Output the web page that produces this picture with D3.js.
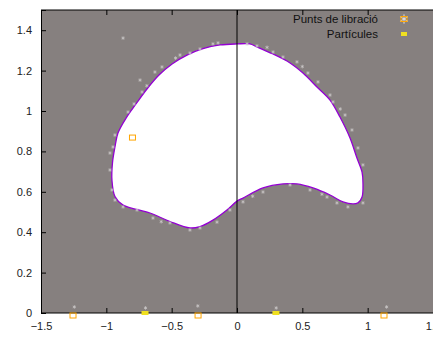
<!DOCTYPE html>
<html>
<head>
<meta charset="utf-8">
<script src="https://cdn.jsdelivr.net/npm/d3@7"></script>
<style>
  html, body { margin: 0; padding: 0; background: #ffffff; overflow: hidden; }
  svg { display: block; }
  text { font-family: "Liberation Sans", Arial, sans-serif; }
</style>
</head>
<body>
<svg id="chart" width="433" height="338"></svg>
<script>
// Zero-velocity curve (boundary of the allowed region), traced clockwise
const boundaryX = [0, 0.099, 0.153, 0.276, 0.406, 0.505, 0.612, 0.712, 0.788, 0.865, 0.918, 0.957, 0.964, 0.957, 0.926, 0.888, 0.811, 0.712, 0.582, 0.459, 0.352, 0.199, 0.046, 0, -0.077, -0.184, -0.283, -0.360, -0.513, -0.666, -0.872, -0.934, -0.957, -0.953, -0.934, -0.911, -0.849, -0.773, -0.689, -0.597, -0.497, -0.383, -0.260, -0.130];
const boundaryY = [1.332, 1.332, 1.317, 1.282, 1.238, 1.188, 1.119, 1.054, 0.970, 0.866, 0.767, 0.698, 0.644, 0.574, 0.545, 0.540, 0.550, 0.584, 0.619, 0.639, 0.639, 0.619, 0.569, 0.554, 0.510, 0.460, 0.428, 0.421, 0.453, 0.495, 0.535, 0.577, 0.658, 0.743, 0.822, 0.891, 0.965, 1.035, 1.109, 1.178, 1.233, 1.277, 1.309, 1.327];

// Libration points
const librationX = [-1.255, -0.298, 1.125, -0.80];
const librationY = [0, 0, 0, 0.866];

// Particles on the axis (yellow markers)
const particleX = [-0.704, 0.298];
const particleY = [0, 0];

// Particle trail samples near the boundary
const trailX = [-0.872, -0.742, -0.727, -0.628, -0.574, -0.436, -0.360, -0.283, -0.184, -0.145, 0.077, 0.153, 0.276, 0.352, 0.459, 0.543, 0.620, 0.712, 0.735, 0.827, 0.880, 0.926, 0.964, -0.957, -0.934, -0.872, -0.765, -0.643, -0.513, -0.360, -0.283, -0.153, -0.054, 0.046, 0.199, 0.406, 0.559, 0.689, 0.765, 0.849, 0.964, -0.934, -0.972, -0.949, -0.972, -0.834, -0.788, -1.245, -0.700, -0.300, 0.300, 1.145, -0.690, -0.470, 0.230, 0.500, 0.790, -0.580, 0.120, 0.650];
const trailY = [1.361, 1.153, 1.094, 1.193, 1.218, 1.277, 1.287, 1.307, 1.332, 1.337, 1.332, 1.322, 1.292, 1.267, 1.243, 1.188, 1.144, 1.079, 1.045, 0.980, 0.906, 0.817, 0.733, 0.609, 0.559, 0.525, 0.510, 0.470, 0.446, 0.411, 0.421, 0.450, 0.510, 0.550, 0.599, 0.634, 0.609, 0.574, 0.545, 0.525, 0.545, 0.881, 0.792, 0.822, 0.708, 0.995, 1.035, 0.030, 0.025, 0.035, 0.025, 0.030, 1.125, 1.262, 1.315, 1.220, 1.010, 0.452, 0.578, 0.588];

const xTicks = [-1.5, -1, -0.5, 0, 0.5, 1, 1.5];
const yTicks = [0, 0.2, 0.4, 0.6, 0.8, 1, 1.2, 1.4];
const legendLabels = ["Punts de libració", "Partícules"];

const svg = d3.select("#chart");
const plotLeft = 41, plotRight = 433, plotTop = 10, plotBottom = 313;

const x = d3.scaleLinear().domain([-1.5, 1.5]).range([plotLeft, plotRight]);
const y = d3.scaleLinear().domain([0, 1.5]).range([plotBottom, plotTop]);

// Plot background
svg.append("rect")
  .attr("x", plotLeft).attr("y", plotTop)
  .attr("width", plotRight - plotLeft).attr("height", plotBottom - plotTop)
  .attr("fill", "#86807f");

// Allowed region
const boundary = boundaryX.map((d, i) => [d, boundaryY[i]]);
svg.append("path")
  .datum(boundary)
  .attr("d", d3.line().x(d => x(d[0])).y(d => y(d[1])).curve(d3.curveCatmullRomClosed.alpha(0.5)))
  .attr("fill", "#ffffff")
  .attr("stroke", "#9400d3")
  .attr("stroke-width", 1.3);

// Vertical line at x = 0
svg.append("line")
  .attr("x1", x(0)).attr("x2", x(0))
  .attr("y1", y(1.5)).attr("y2", y(0))
  .attr("stroke", "#000").attr("stroke-width", 1);

// Trail samples
const star = d3.symbol().type(d3.symbolAsterisk).size(9);
svg.append("g").selectAll("path")
  .data(trailX.map((d, i) => [d, trailY[i]]))
  .join("path")
  .attr("d", star)
  .attr("transform", d => `translate(${x(d[0])},${y(d[1])})`)
  .attr("fill", "none")
  .attr("stroke", "#cfcbcb")
  .attr("stroke-width", 0.7);

// Axes: inward gnuplot-style ticks
const xAxis = d3.axisBottom(x).tickValues(xTicks).tickSize(-5).tickPadding(9).tickFormat(d3.format("~g"));
const yAxis = d3.axisLeft(y).tickValues(yTicks).tickSize(-5).tickPadding(9).tickFormat(d3.format("~g"));
const xTop = d3.axisTop(x).tickValues(xTicks).tickSize(-5).tickFormat("");

const gx = svg.append("g").attr("transform", `translate(0,${plotBottom})`).call(xAxis);
const gy = svg.append("g").attr("transform", `translate(${plotLeft},0)`).call(yAxis);
const gt = svg.append("g").attr("transform", `translate(0,${plotTop})`).call(xTop);
[gx, gy, gt].forEach(g => {
  g.select(".domain").attr("stroke", "#000").attr("stroke-width", 1);
  g.selectAll(".tick line").attr("stroke", "#000");
  g.selectAll(".tick text").attr("font-size", 11).attr("fill", "#222")
    .attr("font-family", "Liberation Sans, Arial, sans-serif");
});
gx.select(".domain").attr("d", `M${plotLeft},0H${plotRight}`);
gt.select(".domain").attr("d", `M${plotLeft},0H${plotRight}`);

// Libration points: open orange squares
svg.append("g").selectAll("rect")
  .data(librationX.map((d, i) => [d, librationY[i]]))
  .join("rect")
  .attr("x", d => x(d[0]) - 3)
  .attr("y", d => y(d[1]) - (d[1] === 0 ? 0 : 3))
  .attr("width", 6).attr("height", 5)
  .attr("fill", "none")
  .attr("stroke", "#ffa500")
  .attr("stroke-width", 1);

// Particles: filled yellow squares
svg.append("g").selectAll("rect")
  .data(particleX.map((d, i) => [d, particleY[i]]))
  .join("rect")
  .attr("x", d => x(d[0]) - 3.5)
  .attr("y", d => y(d[1]) - 2)
  .attr("width", 7).attr("height", 4)
  .attr("fill", "#f0e020");

// Legend
const legend = svg.append("g");
legendLabels.forEach((label, i) => {
  const ly = 19 + i * 15;
  legend.append("text")
    .attr("x", 378).attr("y", ly + 4)
    .attr("text-anchor", "end")
    .attr("font-size", 11.5)
    .attr("fill", "#111")
    .text(label);
  if (i === 0) {
    legend.append("path")
      .attr("d", d3.symbol().type(d3.symbolAsterisk).size(60))
      .attr("transform", `translate(404,${ly})`)
      .attr("fill", "none").attr("stroke", "#e4e2e2").attr("stroke-width", 1);
    legend.append("rect")
      .attr("x", 401).attr("y", ly - 2.5).attr("width", 6).attr("height", 5)
      .attr("fill", "none").attr("stroke", "#ffa500").attr("stroke-width", 1);
  } else {
    legend.append("rect")
      .attr("x", 401).attr("y", ly - 2).attr("width", 6).attr("height", 4)
      .attr("fill", "#f0e020");
  }
});
</script>
</body>
</html>
